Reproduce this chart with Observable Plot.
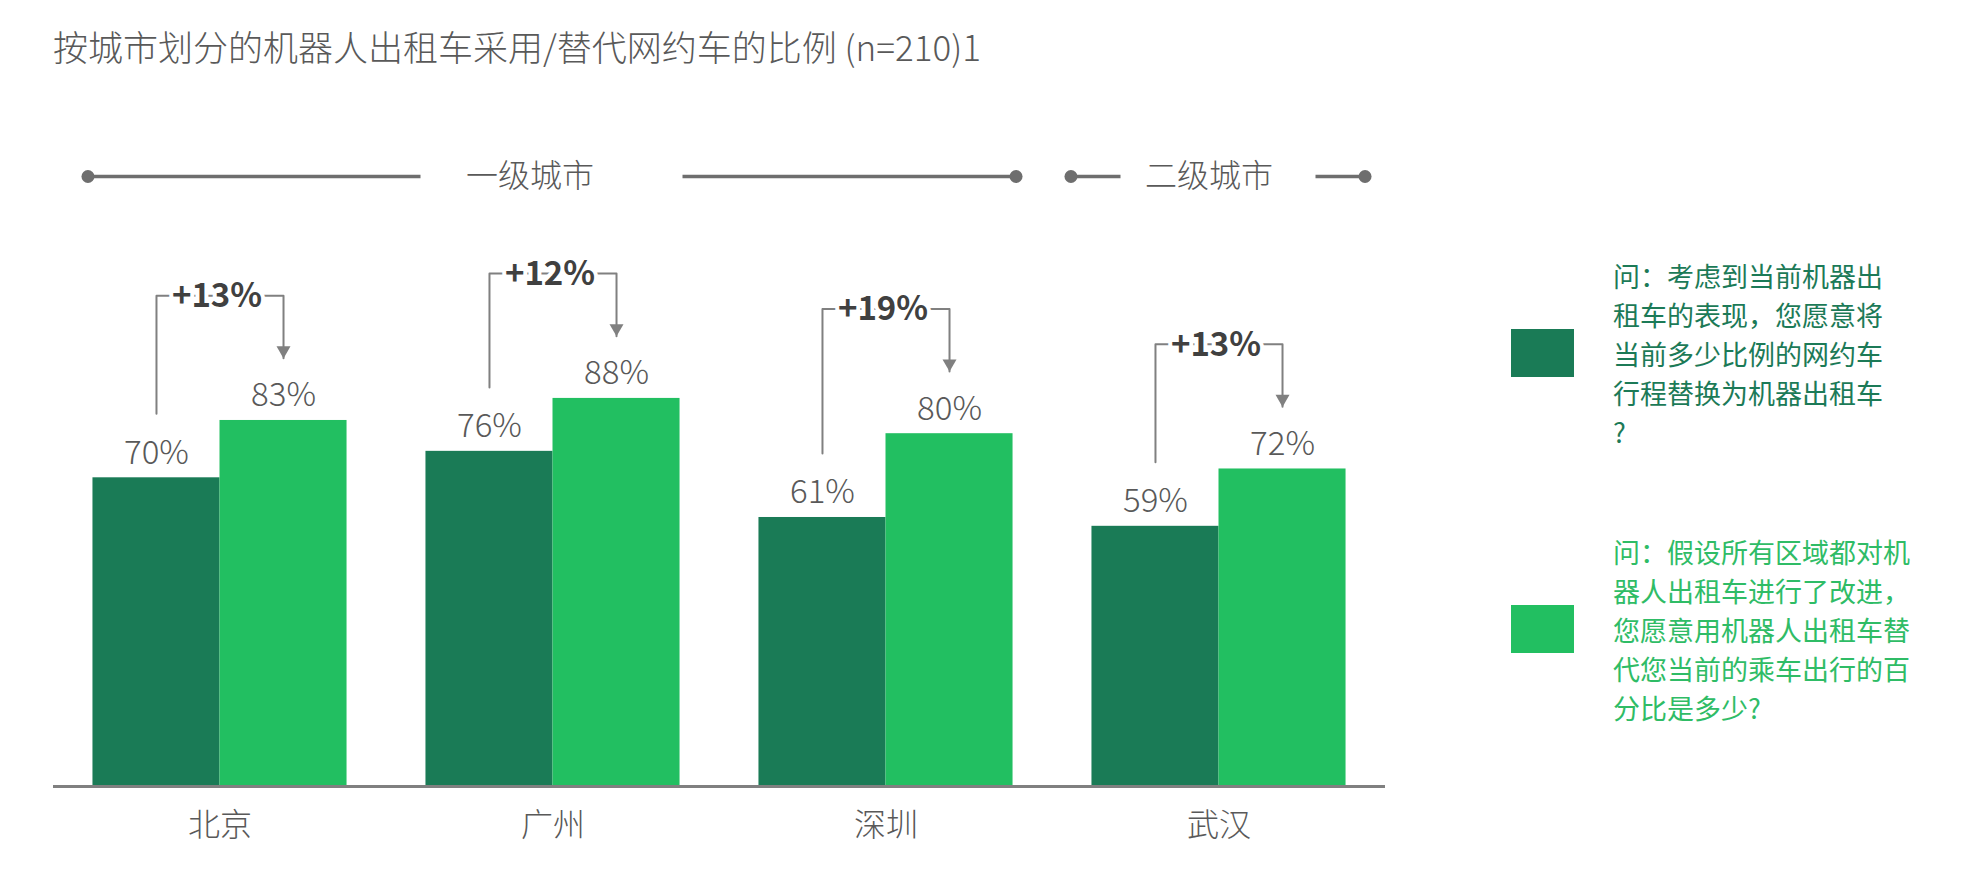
<!DOCTYPE html>
<html><head><meta charset="utf-8">
<script src="https://cdn.jsdelivr.net/npm/d3@7"></script>
<script src="https://cdn.jsdelivr.net/npm/@observablehq/plot@0.6"></script>
<style>
html, body {margin:0; padding:0; background:#fff;}
body {width:1982px; height:871px; position:relative; overflow:hidden; font-family:"Noto Sans CJK SC Light", "Noto Sans CJK SC", sans-serif;}
#title {height:80px; box-sizing:border-box; padding:25px 0 0 53px; font-size:35px; line-height:41px; font-weight:300; color:#595959; white-space:nowrap;}
#chart svg {display:block;}
#tiers {position:absolute; left:0; top:146px;}
.swatch {position:absolute; width:63px; height:48px;}
.legend-text {position:absolute; font-size:27px; line-height:39px; font-weight:400; white-space:nowrap; font-family:"Noto Sans CJK SC", sans-serif;}
</style></head>
<body>
<div id="title"></div>
<div id="chart"></div>
<div id="tiers"></div>
<div id="legend"></div>
<script>
// ---- data ----
const titleText = "按城市划分的机器人出租车采用/替代网约车的比例 (n=210)1";
const cities = ["北京", "广州", "深圳", "武汉"];
const seriesKeys = ["替换网约车行程比例", "改进后替代乘车出行比例"];
const replaceShare = [70, 76, 61, 59];
const improvedShare = [83, 88, 80, 72];
const legendLines = [
  ["问：考虑到当前机器出", "租车的表现，您愿意将", "当前多少比例的网约车", "行程替换为机器出租车", "?"],
  ["问：假设所有区域都对机", "器人出租车进行了改进，", "您愿意用机器人出租车替", "代您当前的乘车出行的百", "分比是多少?"]
];
const tierNames = ["一级城市", "二级城市"];
const tierCities = [["北京", "广州", "深圳"], ["武汉"]];

// ---- style / layout ----
const FONT = "'Noto Sans CJK SC Light', 'Noto Sans CJK SC', sans-serif";
const DARK = "#1a7b56", LIGHT = "#22bf61";
const LEGEND_TEXT = ["#1c7a57", "#2fbc66"];
const GRAY_TEXT = "#595959", LINE = "#808080", TIER_LINE = "#6e6e6e";
const W = 1982, H = 791, ML = 53, MR = 597, MT = 265, MB = 85;
const P_IN = 0.237, P_OUT = P_IN / 2;
const step = (W - ML - MR) / cities.length;
const BRACKET_LOW = 14.5, ARROW_LOW = 14.1, BRACKET_TOP = 28.3; // in value units

document.getElementById("title").textContent = titleText;

const rows = cities.flatMap((c, i) => [
  {city: c, series: seriesKeys[0], value: replaceShare[i]},
  {city: c, series: seriesKeys[1], value: improvedShare[i]}
]);
const pairs = cities.map((c, i) => ({city: c, a: replaceShare[i], b: improvedShare[i]}));
const bracketPts = pairs.flatMap(p => [
  {city: p.city, series: seriesKeys[0], y: p.a + BRACKET_LOW},
  {city: p.city, series: seriesKeys[0], y: p.b + BRACKET_TOP},
  {city: p.city, series: seriesKeys[1], y: p.b + BRACKET_TOP},
  {city: p.city, series: seriesKeys[1], y: p.b + ARROW_LOW}
]);

const chart = Plot.plot({
  width: W, height: H,
  marginLeft: ML, marginRight: MR, marginTop: MT, marginBottom: MB,
  facet: {marginTop: 0, marginBottom: 0, marginLeft: 0, marginRight: 0},
  style: {fontFamily: FONT, fontSize: "32px", fontWeight: 300, color: GRAY_TEXT, background: "white", overflow: "visible"},
  fx: {domain: cities, paddingInner: P_IN, paddingOuter: P_OUT, round: false, axis: "bottom", label: null, tickSize: 0, tickPadding: 27},
  x: {domain: seriesKeys, padding: 0, round: false, axis: null},
  y: {domain: [0, 100], axis: null},
  color: {domain: seriesKeys, range: [DARK, LIGHT]},
  marks: [
    Plot.barY(rows, {fx: "city", x: "series", y: "value", fill: "series"}),
    Plot.ruleY([0], {stroke: LINE, strokeWidth: 3, insetLeft: -step * P_OUT, insetRight: -step * P_OUT}),
    Plot.text(rows, {fx: "city", x: "series", y: "value", text: d => d.value + "%", lineAnchor: "bottom", dy: -14, fontSize: 33, fontWeight: 300, fill: GRAY_TEXT}),
    Plot.line(bracketPts, {fx: "city", x: "series", y: "y", z: "city", stroke: LINE, strokeWidth: 2}),
    Plot.dot(pairs, {fx: "city", x: () => seriesKeys[1], y: d => d.b + ARROW_LOW, symbol: "triangle", r: 5.2, rotate: 180, dy: -8, fill: LINE, stroke: "none"}),
    Plot.text(pairs, {fx: "city", y: d => d.b + BRACKET_TOP, text: d => "+" + (d.b - d.a) + "%", fontFamily: "'Noto Sans CJK SC', sans-serif", fontSize: 33, fontWeight: 700, fill: "#404040", stroke: "white", strokeWidth: 8, dy: 1, dx: -3})
  ]
});
document.getElementById("chart").appendChild(chart);

// ---- tier header, positioned through the same band scale ----
const band = Plot.scale({x: {type: "band", domain: cities, range: [ML, W - MR], paddingInner: P_IN, paddingOuter: P_OUT, round: false}});
const bw = band.bandwidth;
const tierLayout = [
  {padL: 5, padR: 3, gapL: 131, gapR: 131, shift: -22},
  {padL: 21, padR: 19, gapL: 97, gapR: 98, shift: -9}
];
const tierGeo = tierNames.map((name, i) => {
  const L = tierLayout[i];
  const cs = tierCities[i];
  const start = band.apply(cs[0]) - L.padL;
  const end = band.apply(cs[cs.length - 1]) + bw + L.padR;
  const mid = (start + end) / 2;
  return {name, start, end, mid, segs: [[start, mid - L.gapL], [mid + L.gapR, end]], tx: mid + L.shift};
});
const TH = 60, TMID = 30;
const tierPlot = Plot.plot({
  width: W, height: TH, margin: 0,
  style: {fontFamily: FONT, fontSize: "32px", fontWeight: 300, color: GRAY_TEXT, background: "transparent", overflow: "visible"},
  x: {type: "identity", axis: null},
  y: {type: "identity", axis: null},
  marks: [
    Plot.ruleY(tierGeo.flatMap(t => t.segs), {x1: d => d[0], x2: d => d[1], y: () => TMID, stroke: TIER_LINE, strokeWidth: 3.5}),
    Plot.dot(tierGeo.flatMap(t => [t.start, t.end]), {x: d => d, y: () => TMID, r: 6.5, fill: TIER_LINE, stroke: "none"}),
    Plot.text(tierGeo, {x: "tx", y: () => TMID, text: "name", fontSize: 32, fontWeight: 300, fill: GRAY_TEXT})
  ]
});
document.getElementById("tiers").appendChild(tierPlot);

// ---- legend ----
const legend = document.getElementById("legend");
const swatchTops = [329, 605];
const textTops = [256, 532];
[DARK, LIGHT].forEach((col, i) => {
  const s = document.createElement("div");
  s.className = "swatch";
  s.style.left = "1511px"; s.style.top = swatchTops[i] + "px"; s.style.background = col;
  legend.appendChild(s);
  const t = document.createElement("div");
  t.className = "legend-text";
  t.style.left = "1613px"; t.style.top = textTops[i] + "px"; t.style.color = LEGEND_TEXT[i];
  legendLines[i].forEach((ln, j) => {
    if (j) t.appendChild(document.createElement("br"));
    t.appendChild(document.createTextNode(ln));
  });
  legend.appendChild(t);
});
</script>
</body></html>
